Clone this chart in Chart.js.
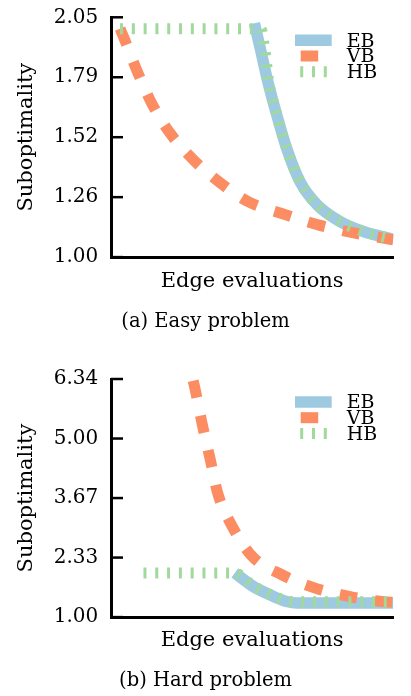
<!DOCTYPE html>
<html>
<head>
<meta charset="utf-8">
<script src="https://cdn.jsdelivr.net/npm/chart.js@4.4.1/dist/chart.umd.min.js"></script>
<style>
  body { margin: 0; background: #fff; }
  canvas { display: block; }
</style>
</head>
<body>
<canvas id="easyChart" width="411" height="345" style="width:411px;height:345px"></canvas>
<canvas id="hardChart" width="411" height="351" style="width:411px;height:351px"></canvas>
<script>
// series: EB, VB, HB  (x = share of the edge-evaluation axis, 0..100)
var seriesNames = ['EB', 'VB', 'HB'];

// (a) easy problem
var easyEbX = [50.8, 53.0, 55.4, 58.7, 62.2, 67.0, 73.0, 81.1, 89.4, 100];
var easyEbY = [2.024, 1.907, 1.776, 1.623, 1.477, 1.329, 1.229, 1.156, 1.112, 1.078];
var easyVbX = [3.2, 4.4, 9.1, 14.4, 20.9, 29.2, 38.6, 48.6, 61.0, 73.4, 85.2, 96.5, 100];
var easyVbY = [2.0, 1.965, 1.819, 1.674, 1.543, 1.426, 1.326, 1.243, 1.189, 1.141, 1.108, 1.083, 1.076];
var easyHbX = [3.2, 52.8, 53.5, 54.2, 54.8, 55.7, 58.7, 62.2, 67.0, 73.0, 81.1, 89.4, 100];
var easyHbY = [2.0, 2.0, 1.987, 1.93, 1.882, 1.783, 1.623, 1.477, 1.329, 1.229, 1.156, 1.112, 1.078];
var easyTicks = [1.0, 1.2625, 1.525, 1.7875, 2.05];
var easyTickLabels = ['1.00', '1.26', '1.52', '1.79', '2.05'];

// (b) hard problem
var hardEbX = [43.9, 50.4, 56.3, 62.2, 65.8, 100];
var hardEbY = [1.99, 1.686, 1.50, 1.35, 1.314, 1.314];
var hardVbX = [29.1, 29.8, 32.3, 35.1, 37.8, 42.8, 49.9, 60.5, 72.3, 84.7, 95.9, 100];
var hardVbY = [6.30, 6.11, 5.33, 4.55, 3.78, 3.05, 2.37, 1.95, 1.65, 1.46, 1.35, 1.33];
var hardHbX = [11.5, 43.6, 50.4, 56.3, 62.2, 66.5, 100];
var hardHbY = [1.99, 1.99, 1.70, 1.51, 1.37, 1.345, 1.345];
var hardTicks = [1.0, 2.335, 3.67, 5.005, 6.34];
var hardTickLabels = ['1.00', '2.33', '3.67', '5.00', '6.34'];

var colors = ['#9ecae1', '#fc8d62', '#a1d99b'];
var widths = [11.5, 11, 11];
var dashes = [[], [17.5, 18], [3, 8.8]];
var legendOffsets = [0, 29.8, 6.6];

Chart.defaults.font.family = "'DejaVu Serif', serif";
Chart.defaults.color = '#000';

// short tick marks pointing into the plot
var innerTicks = {
  id: 'innerTicks',
  afterDraw: function(chart) {
    var ctx = chart.ctx, area = chart.chartArea, y = chart.scales.y;
    ctx.save();
    ctx.strokeStyle = '#000';
    ctx.lineWidth = 2.5;
    y.ticks.forEach(function(t) {
      var py = y.getPixelForValue(t.value);
      ctx.beginPath();
      ctx.moveTo(area.left, py);
      ctx.lineTo(area.left + 12, py);
      ctx.stroke();
    });
    ctx.restore();
  }
};

// legend drawn as line samples in the top right of the plot
var lineLegend = {
  id: 'lineLegend',
  afterDatasetsDraw: function(chart) {
    var ctx = chart.ctx, area = chart.chartArea;
    var x0 = area.right - 98.3, len = 36.7;
    ctx.save();
    chart.data.datasets.forEach(function(ds, i) {
      var y = area.top + 23 + i * 15.7;
      ctx.strokeStyle = ds.borderColor;
      ctx.lineWidth = ds.borderWidth;
      ctx.lineCap = 'butt';
      ctx.setLineDash(ds.borderDash);
      ctx.lineDashOffset = legendOffsets[i];
      ctx.beginPath();
      ctx.moveTo(x0, y);
      ctx.lineTo(x0 + len, y);
      ctx.stroke();
      ctx.setLineDash([]);
      ctx.fillStyle = '#000';
      ctx.font = "19px 'DejaVu Serif'";
      ctx.textBaseline = 'middle';
      ctx.fillText(ds.label, x0 + len + 15, y + 1.5);
    });
    ctx.restore();
  }
};

function buildChart(id, xs, ys, yMax, tickValues, tickLabels, caption, box) {
  var datasets = seriesNames.map(function(name, i) {
    return {
      label: name,
      data: xs[i].map(function(x, k) { return {x: x, y: ys[i][k]}; }),
      borderColor: colors[i],
      borderWidth: widths[i],
      borderDash: dashes[i],
      borderJoinStyle: 'round',
      pointRadius: 0,
      fill: false,
      cubicInterpolationMode: 'monotone',
      order: 3 - i
    };
  });

  return new Chart(document.getElementById(id), {
    type: 'line',
    data: { datasets: datasets },
    options: {
      responsive: false,
      animation: false,
      devicePixelRatio: 1,
      // equal side padding so the caption is centred on the page
      layout: { padding: { top: box.top, right: 17.7, bottom: 0, left: 17.7 } },
      scales: {
        x: {
          type: 'linear', min: 0, max: 100,
          ticks: { display: false },
          grid: { display: false, drawTicks: false },
          border: { color: '#000', width: 3 },
          title: { display: true, text: 'Edge evaluations', font: { size: 21 }, color: '#000', padding: 0 },
          afterFit: function(s) { s.height = box.xh; }
        },
        y: {
          type: 'linear', min: 1, max: yMax,
          afterBuildTicks: function(s) {
            s.ticks = tickValues.map(function(v) { return {value: v}; });
          },
          ticks: {
            callback: function(v, i) { return tickLabels[i]; },
            font: { size: 20 }, color: '#000', padding: 12.7
          },
          grid: { display: false, drawTicks: false },
          border: { color: '#000', width: 3 },
          title: { display: true, text: 'Suboptimality', font: { size: 21 }, color: '#000', padding: { top: -3.3, bottom: 0 } },
          afterFit: function(s) {
            s.width = 93.3;
            s.paddingTop = 0;
            s.paddingBottom = 0;
          }
        }
      },
      plugins: {
        legend: { display: false },
        tooltip: { enabled: false },
        title: {
          display: true, position: 'bottom', text: caption,
          font: { size: 19.5, weight: 'normal' }, color: '#000',
          padding: { top: 15.7, bottom: box.capBottom }
        }
      }
    },
    plugins: [innerTicks, lineLegend]
  });
}

buildChart('easyChart',
  [easyEbX, easyVbX, easyHbX], [easyEbY, easyVbY, easyHbY],
  2.05, easyTicks, easyTickLabels, '(a) Easy problem',
  { top: 17.3, xh: 37.3, capBottom: 11.5 });

buildChart('hardChart',
  [hardEbX, hardVbX, hardHbX], [hardEbY, hardVbY, hardHbY],
  6.34, hardTicks, hardTickLabels, '(b) Hard problem',
  { top: 34, xh: 36.3, capBottom: 3.5 });
</script>
</body>
</html>
